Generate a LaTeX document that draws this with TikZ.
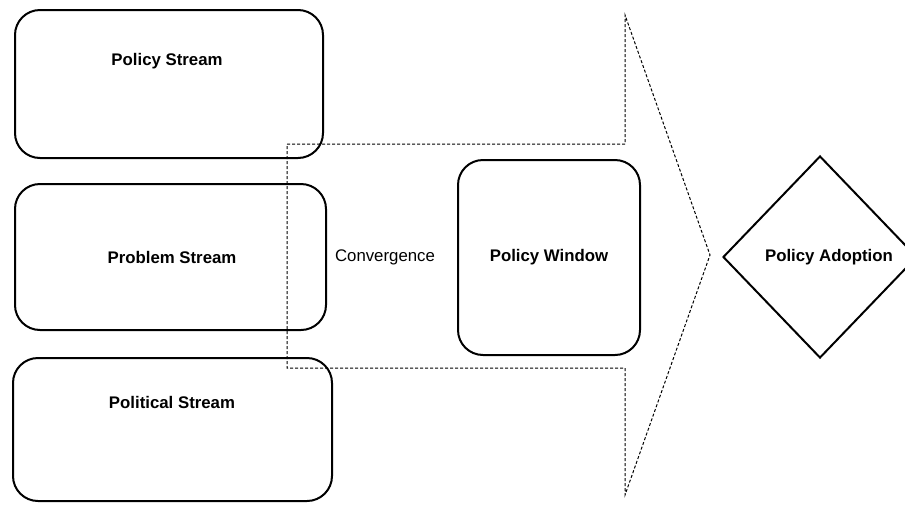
\documentclass[tikz,border=0pt]{standalone}
\usepackage{fontspec}
\setmainfont{Liberation Sans}
\usetikzlibrary{shapes.geometric}
\begin{document}
\begin{tikzpicture}[x=1pt,y=-1pt,
  streambox/.style={draw, line width=2pt, rounded corners=25pt, inner sep=0pt},
  adoptbox/.style={draw, diamond, line width=2pt, inner sep=0pt},
  boldlbl/.style={font=\fontsize{16.8}{20}\selectfont\bfseries, inner sep=0pt},
  plainlbl/.style={font=\fontsize{16.8}{20}\selectfont, inner sep=0pt},
  convarrow/.style={draw, line width=1pt, dash pattern=on 3pt off 2pt}]
\useasboundingbox (0,0) rectangle (905,504);
\clip (0,0) rectangle (905,504);
% stream boxes
\node[streambox, minimum width=308pt, minimum height=148pt] (policybox) at (169,84) {};
\node[streambox, minimum width=311pt, minimum height=146pt] (problembox) at (170.5,257) {};
\node[streambox, minimum width=319pt, minimum height=143pt] (politicalbox) at (172.5,429.5) {};
\node[streambox, minimum width=182pt, minimum height=195pt] (windowbox) at (549,257.5) {};
\node[adoptbox, minimum width=194pt, minimum height=202pt] (adoptdiamond) at (820,257) {};
% labels
\node[boldlbl] (policylbl) at (167,61) {Policy Stream};
\node[boldlbl] (problemlbl) at (172,257) {Problem Stream};
\node[boldlbl] (politicallbl) at (172,402) {Political Stream};
\node[plainlbl] (convlbl) at (385,257) {Convergence};
\node[boldlbl] (windowlbl) at (549,257) {Policy Window};
\node[boldlbl] (adoptlbl) at (829,257) {Policy Adoption};
% convergence arrow
\path[convarrow] (287,144) -- (625,144) -- (625,15) -- (710,255) -- (625,495) -- (625,368) -- (287,368) -- cycle;
\end{tikzpicture}
\end{document}
